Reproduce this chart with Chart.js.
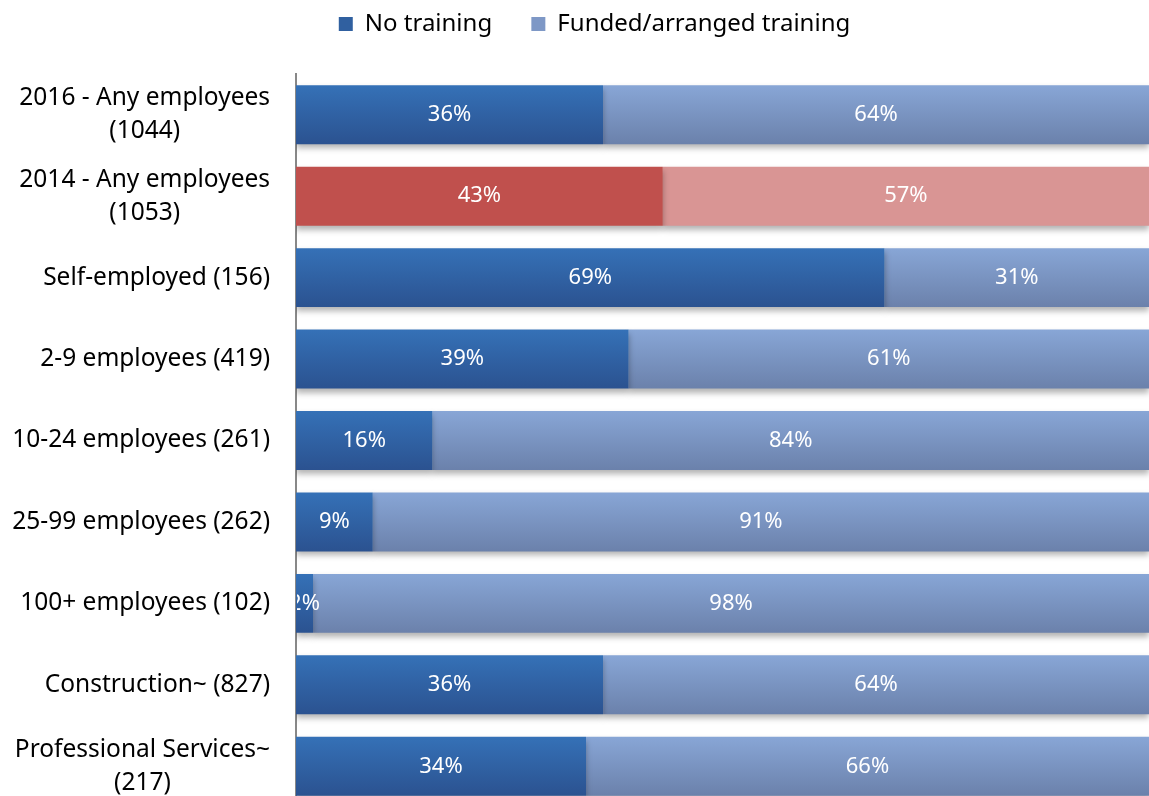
<!DOCTYPE html>
<html>
<head>
<meta charset="utf-8">
<script src="https://cdn.jsdelivr.net/npm/chart.js@4"></script>
<style>
  html, body { margin: 0; padding: 0; background: #fff; overflow: hidden; }
  #wrap { width: 1149px; height: 807px; position: relative; }
</style>
</head>
<body>
<div id="wrap"><canvas id="grafico"></canvas></div>
<script>
// dados do grafico
const categorias = [
  ["2016 - Any employees", "(1044)"],
  ["2014 - Any employees", "(1053)"],
  "Self-employed (156)",
  "2-9 employees (419)",
  "10-24 employees (261)",
  "25-99 employees (262)",
  "100+ employees (102)",
  "Construction~ (827)",
  ["Professional Services~", "(217)"],
];
const semTreinamento = [36, 43, 69, 39, 16, 9, 2, 36, 34];
const comTreinamento = [64, 57, 31, 61, 84, 91, 98, 64, 66];
const nomesSeries = ["No training", "Funded/arranged training"];

const fonte = "'Noto Sans', 'Open Sans', sans-serif";
const indiceDestaque = 1; // linha 2014 em vermelho

function gradiente(ctx, cores, destaque) {
  const chart = ctx.chart;
  const i = ctx.dataIndex;
  if (i === indiceDestaque) return destaque;
  const y = chart.scales && chart.scales.y;
  if (!chart.chartArea || !y || i === undefined) return cores[0];
  const meio = y.getPixelForValue(i);
  const altura = (chart.chartArea.height / categorias.length) * 0.724;
  const g = chart.ctx.createLinearGradient(0, meio - altura / 2, 0, meio + altura / 2);
  g.addColorStop(0, cores[0]);
  g.addColorStop(1, cores[1]);
  return g;
}

const sombraBarras = {
  id: "sombraBarras",
  beforeDatasetsDraw(chart) {
    const ctx = chart.ctx;
    ctx.save();
    ctx.shadowColor = "rgba(0,0,0,0.30)";
    ctx.shadowBlur = 6;
    ctx.shadowOffsetY = 4;
  },
  afterDatasetsDraw(chart) {
    chart.ctx.restore();
  },
};

const rotulosBarras = {
  id: "rotulosBarras",
  afterDatasetsDraw(chart) {
    const ctx = chart.ctx;
    const area = chart.chartArea;
    ctx.save();
    ctx.beginPath();
    ctx.rect(area.left + 1, 0, area.right - area.left, chart.height);
    ctx.clip();
    ctx.fillStyle = "#ffffff";
    ctx.font = "22px " + fonte;
    ctx.textAlign = "center";
    ctx.textBaseline = "middle";
    chart.data.datasets.forEach((ds, d) => {
      chart.getDatasetMeta(d).data.forEach((barra, i) => {
        const x = (barra.x + barra.base) / 2;
        ctx.fillText(ds.data[i] + "%", x, barra.y);
      });
    });
    ctx.restore();
  },
};

const rotulosEixo = {
  id: "rotulosEixo",
  afterDraw(chart) {
    const ctx = chart.ctx;
    const y = chart.scales.y;
    const direita = chart.chartArea.left - 26;
    ctx.save();
    ctx.fillStyle = "#000000";
    ctx.font = "24.5px " + fonte;
    ctx.textAlign = "center";
    ctx.textBaseline = "middle";
    categorias.forEach((cat, i) => {
      const linhas = Array.isArray(cat) ? cat : [cat];
      const larg = Math.max(...linhas.map((l) => ctx.measureText(l).width));
      const meio = y.getPixelForValue(i);
      linhas.forEach((l, k) => {
        ctx.fillText(l, direita - larg / 2, meio + (k - (linhas.length - 1) / 2) * 33);
      });
    });
    ctx.restore();
  },
};

const data = {
  labels: categorias,
  datasets: [
    {
      label: nomesSeries[0],
      data: semTreinamento,
      backgroundColor: (c) => gradiente(c, ["#3571b7", "#2b5290"], "#c0504d"),
      barPercentage: 0.724,
      categoryPercentage: 1,
    },
    {
      label: nomesSeries[1],
      data: comTreinamento,
      backgroundColor: (c) => gradiente(c, ["#88a6d6", "#6b81ab"], "#d99594"),
      barPercentage: 0.724,
      categoryPercentage: 1,
    },
  ],
};

const config = {
  type: "bar",
  data: data,
  options: {
    indexAxis: "y",
    responsive: true,
    maintainAspectRatio: false,
    animation: false,
    layout: { padding: { top: 4, right: 0, left: 40, bottom: 0 } },
    scales: {
      x: {
        stacked: true,
        min: 0,
        max: 100,
        position: "top",
        grid: { display: false },
        border: { display: false },
        ticks: { display: false },
        afterFit: (s) => { s.height = 28; },
      },
      y: {
        stacked: true,
        grid: { display: false },
        ticks: { display: false },
        border: { display: true, color: "#888888", width: 2 },
        afterFit: (s) => { s.width = 256; },
      },
    },
    plugins: {
      tooltip: { enabled: false },
      legend: {
        position: "top",
        labels: {
          font: { family: fonte, size: 24 },
          color: "#000000",
          boxWidth: 14,
          boxHeight: 14,
          padding: 8,
          generateLabels: (chart) =>
            nomesSeries.map((n, i) => ({
              // espacos no fim para afastar as duas entradas
              text: i === 0 ? n + "     " : n,
              fillStyle: i === 0 ? "#3060a0" : "#7e98c6",
              strokeStyle: "rgba(0,0,0,0)",
              lineWidth: 0,
              datasetIndex: i,
            })),
        },
      },
    },
  },
  plugins: [sombraBarras, rotulosBarras, rotulosEixo],
};

new Chart(document.getElementById("grafico"), config);
</script>
</body>
</html>
